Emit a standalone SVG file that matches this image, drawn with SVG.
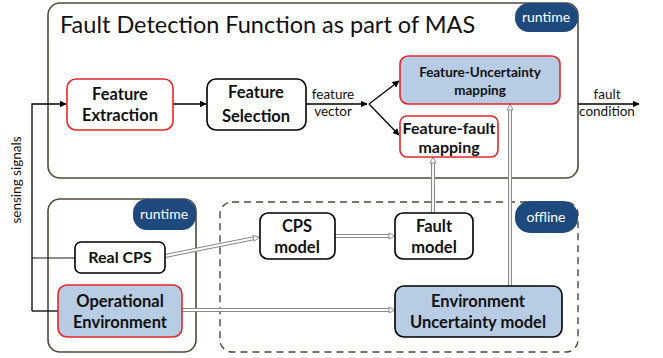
<svg xmlns="http://www.w3.org/2000/svg" width="663" height="358" viewBox="0 0 663 358">
<defs>
<style>
.frame{fill:#fff;stroke:#4d4a3c;stroke-width:1.6}
.dash{fill:none;stroke:#4d4a3c;stroke-width:1.4;stroke-dasharray:7,5}
.badge{fill:#1d497c}
.btxt{font-family:Lato,"Open Sans",sans-serif;font-size:14px;fill:#fff;text-anchor:middle}
.box{fill:#fff;stroke:#000;stroke-width:1.6}
.red{stroke:#e8262a}
.blue{fill:#b8cce4}
.lbl{font-family:Lato,"Open Sans",sans-serif;font-weight:bold;font-size:16.5px;fill:#111;text-anchor:middle}
.fum{font-size:13.5px}
.ffm{font-size:16px}
.small{font-family:Lato,"Open Sans",sans-serif;font-size:13.5px;fill:#111;text-anchor:middle}
.ln{fill:none;stroke:#000;stroke-width:1.3}
.thin{fill:none;stroke:#000;stroke-width:0.9}
.dblo{fill:none;stroke:#8a8a8a;stroke-width:4}
.dbli{fill:none;stroke:#fff;stroke-width:1.8}
.ah{fill:#fff;stroke:#8a8a8a;stroke-width:1}
</style>
<marker id="arr" viewBox="0 0 10 10" refX="9" refY="5" markerWidth="7" markerHeight="7" orient="auto" markerUnits="userSpaceOnUse">
<path d="M0,0 L10,5 L0,10 z" fill="#000"/>
</marker>
</defs>

<g id="fdf-frame">
<rect class="frame" x="48" y="3" width="530" height="175" rx="12"/>
<text x="60" y="33" font-family="Lato, 'Open Sans', sans-serif" font-size="23.5" fill="#111">Fault Detection Function as part of MAS</text>
<rect class="badge" x="515" y="3" width="63" height="29" rx="14"/>
<text class="btxt" x="546" y="22">runtime</text>
</g>

<g id="runtime-frame">
<rect class="frame" x="48" y="199" width="148" height="153" rx="12"/>
<rect class="badge" x="133" y="199" width="63" height="31" rx="14"/>
<text class="btxt" x="164" y="219">runtime</text>
</g>

<g id="offline-frame">
<rect class="dash" x="220" y="202" width="358" height="150" rx="12"/>
<rect class="badge" x="515" y="201" width="63" height="32" rx="15"/>
<text class="btxt" x="546" y="222">offline</text>
</g>

<g id="connectors">
<text class="small" transform="translate(21,180) rotate(-90)">sensing signals</text>
<path class="ln" d="M32,311 V104 H66" marker-end="url(#arr)"/>
<path class="thin" d="M32,258 H75"/>
<path class="ln" d="M32,311 H58"/>
<path class="ln" d="M173,104 H206" marker-end="url(#arr)"/>
<path class="ln" d="M306,104 H367" marker-end="url(#arr)"/>
<path class="ln" d="M369,104 L399,81" marker-end="url(#arr)"/>
<path class="ln" d="M369,104 L399,135" marker-end="url(#arr)"/>
<text class="small" x="333" y="99">feature</text>
<text class="small" x="333" y="116">vector</text>
<path class="ln" d="M578,104 H639" marker-end="url(#arr)"/>
<text class="small" x="607" y="99">fault</text>
<text class="small" x="607" y="116">condition</text>

<path class="dblo" d="M165,256 L255,238"/>
<path class="dbli" d="M165,256 L255,238"/>
<path class="ah" d="M259,237 L253,235.5 L254.2,241.4 z"/>
<path class="dblo" d="M335,236 H390"/>
<path class="dbli" d="M335,236 H390"/>
<path class="ah" d="M395,236 L389,233 L389,239 z"/>
<path class="dblo" d="M182,310 H390"/>
<path class="dbli" d="M182,310 H390"/>
<path class="ah" d="M395,310 L389,307 L389,313 z"/>
<path class="dblo" d="M433,213 V162"/>
<path class="dbli" d="M433,213 V162"/>
<path class="ah" d="M433,157 L430,163 L436,163 z"/>
<path class="dblo" d="M510,286 V109"/>
<path class="dbli" d="M510,286 V109"/>
<path class="ah" d="M510,104 L507,110 L513,110 z"/>
</g>

<g id="feature-extraction">
<rect class="box red" x="67" y="79" width="106" height="51" rx="9"/>
<text class="lbl" x="120" y="100">Feature</text>
<text class="lbl" x="120" y="121">Extraction</text>
</g>
<g id="feature-selection">
<rect class="box" x="207" y="79" width="99" height="51" rx="9"/>
<text class="lbl" x="256" y="98">Feature</text>
<text class="lbl" x="256" y="122">Selection</text>
</g>
<g id="feature-uncertainty-mapping">
<rect class="box red blue" x="400" y="56" width="160" height="48" rx="8"/>
<text class="lbl fum" x="480" y="77">Feature-Uncertainty</text>
<text class="lbl fum" x="480" y="95">mapping</text>
</g>
<g id="feature-fault-mapping">
<rect class="box red" x="400" y="116" width="98" height="41" rx="7"/>
<text class="lbl ffm" x="449" y="134">Feature-fault</text>
<text class="lbl ffm" x="449" y="153">mapping</text>
</g>
<g id="real-cps">
<rect class="box" x="75" y="242" width="90" height="31" rx="6"/>
<text class="lbl ffm" x="120" y="263">Real CPS</text>
</g>
<g id="operational-environment">
<rect class="box red blue" x="58" y="285" width="124" height="52" rx="9"/>
<text class="lbl" x="120" y="307">Operational</text>
<text class="lbl" x="120" y="328">Environment</text>
</g>
<g id="cps-model">
<rect class="box" x="260" y="213" width="75" height="46" rx="8"/>
<text class="lbl" x="297" y="232">CPS</text>
<text class="lbl" x="297" y="253">model</text>
</g>
<g id="fault-model">
<rect class="box" x="395" y="213" width="78" height="46" rx="8"/>
<text class="lbl" x="434" y="232">Fault</text>
<text class="lbl" x="434" y="253">model</text>
</g>
<g id="environment-uncertainty-model">
<rect class="box blue" x="395" y="286" width="167" height="51" rx="9"/>
<text class="lbl" x="478" y="307">Environment</text>
<text class="lbl" x="478" y="328">Uncertainty model</text>
</g>
</svg>
